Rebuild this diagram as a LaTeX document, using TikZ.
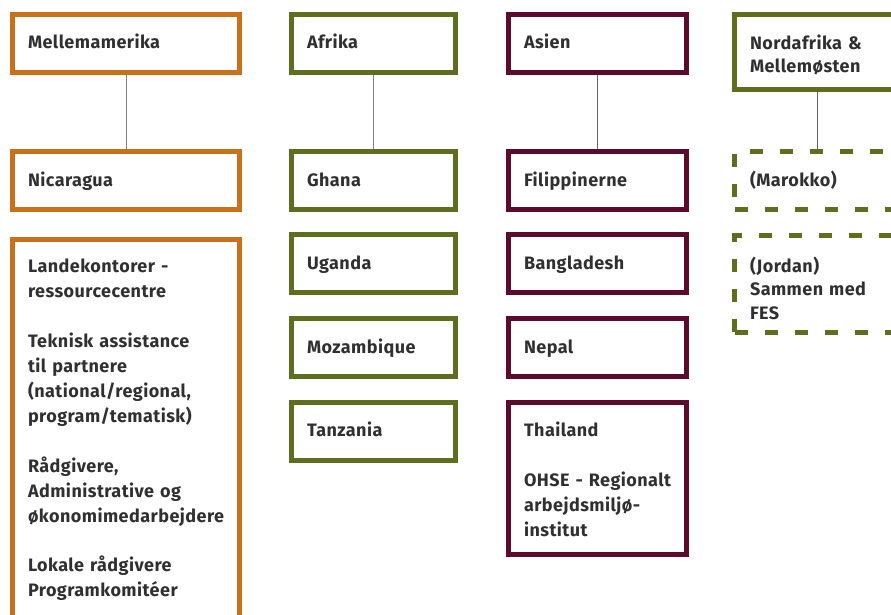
\documentclass[tikz,border=0pt]{standalone}
\usepackage{fontspec}
\setmainfont[LetterSpace=2.5]{Fira Sans}
\begin{document}
\begin{tikzpicture}[x=1pt,y=1pt]
\definecolor{orangeC}{HTML}{C8711A}
\definecolor{greenC}{HTML}{5F6E1E}
\definecolor{maroonC}{HTML}{5C0A2E}
\definecolor{txt}{HTML}{303030}
\tikzset{
  box/.style={draw, line width=5pt, fill=white, text=txt, align=left,
    inner xsep=15.5pt, inner ysep=0pt,
    font=\bfseries\fontsize{18}{25}\selectfont},
  boxN/.style={box, font=\bfseries\fontsize{18}{23.3}\selectfont},
  dbox/.style={boxN, dash pattern=on 13pt off 17pt},
  conn/.style={draw=gray, line width=1pt},
  c1/.style={draw=orangeC, minimum width=227pt, text width=196pt},
  c2/.style={draw=greenC, minimum width=164pt, text width=133pt},
  c3/.style={draw=maroonC, minimum width=178pt, text width=147pt},
  c4/.style={draw=greenC, minimum width=165pt, text width=134pt},
  r58/.style={minimum height=58pt, text height=13pt, text depth=2pt}
}
\useasboundingbox (0,0) rectangle (891,-615);
\clip (0,0) rectangle (891,-615);
\fill[white] (0,0) rectangle (891,-615);
% column 1
\node[box,c1,r58] (mel) at (126,-43.5) {Mellemamerika};
\node[box,c1,r58] (nic) at (126,-180.5) {Nicaragua};
\node[box,c1,anchor=north,inner ysep=20pt] (land) at (126,-236.5) {%
\mbox{Landekontorer -}\\ ressourcecentre\\[24.7pt]
\mbox{Teknisk assistance}\\ \mbox{til partnere}\\ \mbox{(national/regional,}\\ \mbox{program/tematisk)}\\[24.7pt]
Rådgivere,\\ \mbox{Administrative og}\\ økonomimedarbejdere\\[24.7pt]
\mbox{Lokale rådgivere}\\ Programkomitéer};
% column 2
\node[box,c2,r58] (afr) at (373.5,-43.5) {Afrika};
\node[box,c2,r58] (gha) at (373.5,-180.5) {Ghana};
\node[box,c2,r58] (uga) at (373.5,-263.5) {Uganda};
\node[box,c2,r58] (moz) at (373.5,-347.5) {Mozambique};
\node[box,c2,r58] (tan) at (373.5,-431) {Tanzania};
% column 3
\node[box,c3,r58] (asi) at (597.5,-43.5) {Asien};
\node[box,c3,r58] (fil) at (597.5,-180.5) {Filippinerne};
\node[box,c3,r58] (ban) at (597.5,-263.5) {Bangladesh};
\node[box,c3,r58] (nep) at (597.5,-347.5) {Nepal};
\node[box,c3,minimum height=152pt] (tha) at (597.5,-478.5) {\rule{0pt}{16pt}Thailand\\[25pt]
\mbox{OHSE - Regionalt}\\ arbejdsmiljø-\\ institut};
% column 4
\node[boxN,c4,minimum height=75pt] (nor) at (817,-52) {\rule{0pt}{21pt}\mbox{Nordafrika \&}\\ Mellemøsten};
\node[dbox,c4,r58] (mar) at (817,-180.5) {(Marokko)};
\node[dbox,c4,minimum height=97pt] (jor) at (817,-284) {\rule{0pt}{24pt}(Jordan)\\ \mbox{Sammen med}\\ FES};
% connectors
\draw[conn] (mel.south) -- (nic.north);
\draw[conn] (afr.south) -- (gha.north);
\draw[conn,draw=gray!80!black] (asi.south) -- (fil.north);
\draw[conn,draw=gray!80!black] (nor.south) -- (mar.north);
\end{tikzpicture}
\end{document}
